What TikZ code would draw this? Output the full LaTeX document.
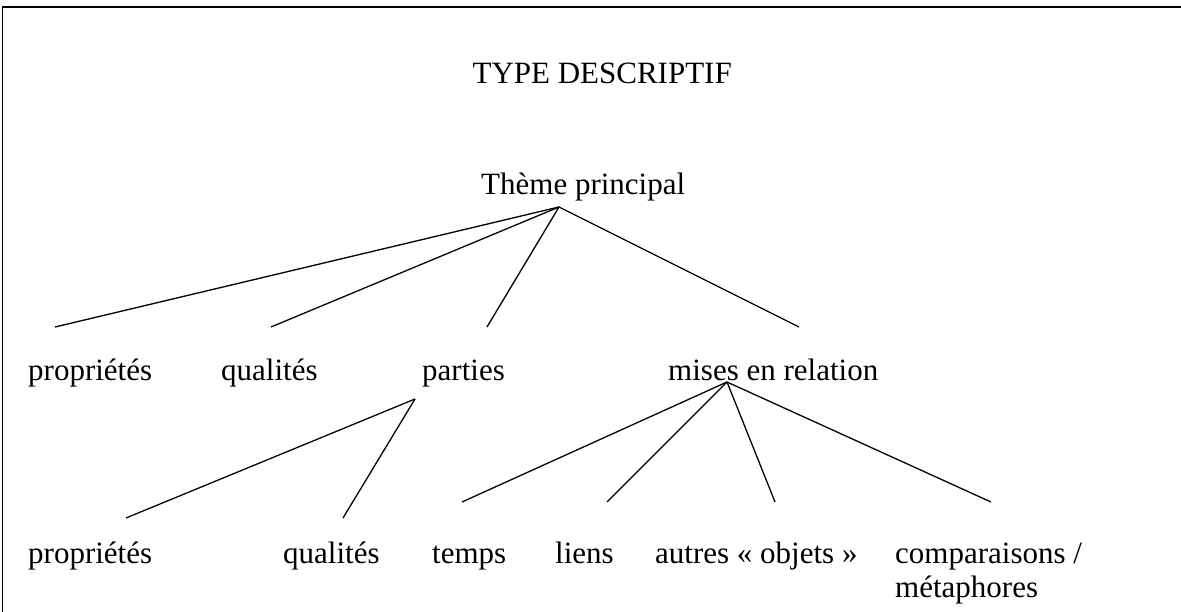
\documentclass[tikz,border=0pt]{standalone}
\usepackage{fontspec}
\setmainfont{Liberation Serif}
\begin{document}
\begin{tikzpicture}[x=1pt,y=-1pt,
  lbl/.style={inner sep=0pt,anchor=base west,font=\fontsize{31}{34}\selectfont},
  conn/.style={line width=1.3pt}]
\useasboundingbox (0,0) rectangle (1181,612);
\draw[line width=1.5pt] (2.5,612) -- (2.5,7) -- (1181,7);
% titles
\node[lbl,anchor=base east] (title) at (732,84) {TYPE DESCRIPTIF};
\node[lbl] (theme) at (481,195) {Thème principal};
% level 1
\node[lbl] (p1) at (28,381) {propriétés};
\node[lbl] (q1) at (221,381) {qualités};
\node[lbl] (parties) at (422,381) {parties};
\node[lbl] (mises) at (668,381) {mises en relation};
% level 2
\node[lbl] (p2) at (28,563) {propriétés};
\node[lbl] (q2) at (283,563) {qualités};
\node[lbl] (temps) at (432,563) {temps};
\node[lbl] (liens) at (555,563) {liens};
\node[lbl] (autres) at (655,563) {autres « objets »};
\node[lbl,align=left] (comp) at (895,597) {comparaisons /\\ métaphores};
% connector points
\coordinate (tA) at (559,207);
\coordinate (e1) at (55,327);
\coordinate (e2) at (271,327);
\coordinate (e3) at (487,327);
\coordinate (e4) at (799,327);
\coordinate (pA) at (415,399);
\coordinate (f1) at (126,518);
\coordinate (f2) at (343,518);
\coordinate (mA) at (727,382);
\coordinate (g1) at (462,502);
\coordinate (g2) at (607,502);
\coordinate (g3) at (775,502);
\coordinate (g4) at (991,502);
\foreach \e in {e1,e2,e3,e4} \draw[conn] (tA) -- (\e);
\foreach \e in {f1,f2} \draw[conn] (pA) -- (\e);
\foreach \e in {g1,g2,g3,g4} \draw[conn] (mA) -- (\e);
\end{tikzpicture}
\end{document}
